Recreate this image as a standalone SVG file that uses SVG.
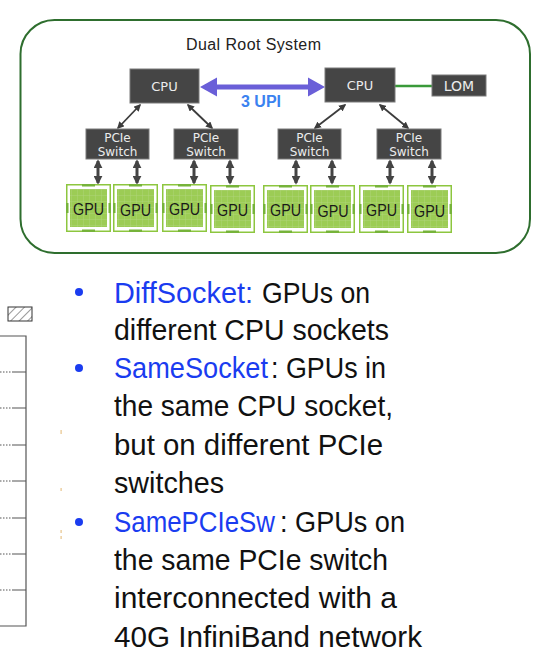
<svg xmlns="http://www.w3.org/2000/svg" xmlns:xlink="http://www.w3.org/1999/xlink" width="558" height="662" viewBox="0 0 558 662">
<style>
.box{fill:#454545;stroke:#7a7a7a;stroke-width:1}
.bt{font-family:"DejaVu Sans",sans-serif;fill:#ececec;text-anchor:middle}
.gt{font-family:"Liberation Sans",Arial,sans-serif;font-size:16px;fill:#1a1a1a;text-anchor:middle}
.bul{font-family:"Liberation Sans",Arial,sans-serif;font-size:29px;fill:#111}
.blue{fill:#1a3cf0}
.diag{stroke:#3c3c3c;stroke-width:1.8;fill:none;marker-start:url(#ahS);marker-end:url(#ahS)}
.vert{stroke:#444;stroke-width:3;fill:none;marker-start:url(#ahV);marker-end:url(#ahV)}
.tbl{stroke:#555;stroke-width:1.2;fill:none}
.dot{stroke:#555;stroke-width:1;stroke-dasharray:1.5 1.5;fill:none}
</style>
<defs>
<marker id="ahS" viewBox="0 0 10 10" refX="8" refY="5" markerWidth="4" markerHeight="4" orient="auto-start-reverse"><path d="M0,0 L10,5 L0,10 z" fill="#3c3c3c"/></marker>
<marker id="ahV" viewBox="0 0 10 10" refX="8" refY="5" markerWidth="3" markerHeight="3" orient="auto-start-reverse"><path d="M0,0 L10,5 L0,10 z" fill="#444"/></marker>
<pattern id="grid" width="6" height="6" patternUnits="userSpaceOnUse"><rect width="6" height="6" fill="#9ccc55"/><path d="M6 0V6M0 6H6" stroke="#b4d985" stroke-width="0.7"/></pattern>
<pattern id="hatch" width="6" height="6" patternUnits="userSpaceOnUse" patternTransform="rotate(45)"><rect width="6" height="6" fill="#fff"/><line x1="0" y1="0" x2="0" y2="6" stroke="#333" stroke-width="1"/></pattern>
<g id="gpuShape">
<rect x="0.75" y="0.75" width="43.5" height="46.5" fill="#fff" stroke="#8dc63f" stroke-width="1.5"/>
<rect x="4" y="5" width="37" height="38" fill="url(#grid)"/>
<rect x="16" y="0" width="13" height="2.5" fill="#76b33a"/>
<rect x="16" y="45.5" width="13" height="2.5" fill="#76b33a"/>
<rect x="0" y="19" width="2.5" height="10" fill="#76b33a"/>
<rect x="42.5" y="19" width="2.5" height="10" fill="#76b33a"/>
</g>
</defs>
<rect width="558" height="662" fill="#fff"/>

<g id="frame">
<rect x="20.5" y="20" width="509.5" height="233" rx="34" ry="34" fill="#fff" stroke="#2e6e2e" stroke-width="2"/>
<text x="186" y="50" font-family="'Liberation Sans',Arial,sans-serif" font-size="16" fill="#222" textLength="135" lengthAdjust="spacing">Dual Root System</text>
</g>

<g id="connectors">
<path d="M200,87 L217,77.5 L217,84.5 L308,84.5 L308,77.5 L325,87 L308,96.5 L308,89.5 L217,89.5 L217,96.5 Z" fill="#6a5fd8"/>
<text x="241" y="107" font-family="'Liberation Sans',Arial,sans-serif" font-size="16" font-weight="bold" fill="#3b82f0">3 UPI</text>
<line x1="395" y1="86" x2="432" y2="86" stroke="#3a9a3a" stroke-width="2.5"/>
<line class="diag" x1="140" y1="105" x2="118" y2="128"/>
<line class="diag" x1="188" y1="105" x2="212" y2="128"/>
<line class="diag" x1="345" y1="105" x2="315" y2="128"/>
<line class="diag" x1="380" y1="105" x2="408" y2="128"/>
<line class="vert" x1="98" y1="161" x2="98" y2="183"/>
<line class="vert" x1="137" y1="161" x2="137" y2="183"/>
<line class="vert" x1="194" y1="161" x2="194" y2="183"/>
<line class="vert" x1="230" y1="161" x2="230" y2="183"/>
<line class="vert" x1="296" y1="161" x2="296" y2="183"/>
<line class="vert" x1="332" y1="161" x2="332" y2="183"/>
<line class="vert" x1="390" y1="161" x2="390" y2="183"/>
<line class="vert" x1="432" y1="161" x2="432" y2="183"/>
</g>

<g id="cpu1"><rect class="box" x="130" y="69" width="69" height="34"/><text class="bt" x="164.5" y="91" font-size="13">CPU</text></g>
<g id="cpu2"><rect class="box" x="325" y="68" width="70" height="34"/><text class="bt" x="360" y="90" font-size="13">CPU</text></g>
<g id="lom"><rect class="box" x="432" y="75" width="54" height="21"/><text class="bt" x="459" y="90.5" font-size="14">LOM</text></g>

<g id="sw1"><rect class="box" x="86" y="129" width="63" height="30"/><text class="bt" x="117.5" y="142" font-size="12">PCIe</text><text class="bt" x="117.5" y="156" font-size="12">Switch</text></g>
<g id="sw2"><rect class="box" x="174" y="129" width="64" height="30"/><text class="bt" x="206" y="142" font-size="12">PCIe</text><text class="bt" x="206" y="156" font-size="12">Switch</text></g>
<g id="sw3"><rect class="box" x="278" y="129" width="63" height="30"/><text class="bt" x="309.5" y="142" font-size="12">PCIe</text><text class="bt" x="309.5" y="156" font-size="12">Switch</text></g>
<g id="sw4"><rect class="box" x="377" y="129" width="64" height="30"/><text class="bt" x="409" y="142" font-size="12">PCIe</text><text class="bt" x="409" y="156" font-size="12">Switch</text></g>

<g id="gpu1"><use xlink:href="#gpuShape" x="66" y="184"/><text class="gt" x="88.5" y="215" textLength="31" lengthAdjust="spacingAndGlyphs">GPU</text></g>
<g id="gpu2"><use xlink:href="#gpuShape" x="113" y="184"/><text class="gt" x="135.5" y="216" textLength="31" lengthAdjust="spacingAndGlyphs">GPU</text></g>
<g id="gpu3"><use xlink:href="#gpuShape" x="162" y="184"/><text class="gt" x="184.5" y="215" textLength="31" lengthAdjust="spacingAndGlyphs">GPU</text></g>
<g id="gpu4"><use xlink:href="#gpuShape" x="210" y="185"/><text class="gt" x="232.5" y="216" textLength="31" lengthAdjust="spacingAndGlyphs">GPU</text></g>
<g id="gpu5"><use xlink:href="#gpuShape" x="263" y="185"/><text class="gt" x="285.5" y="216" textLength="31" lengthAdjust="spacingAndGlyphs">GPU</text></g>
<g id="gpu6"><use xlink:href="#gpuShape" x="310" y="185"/><text class="gt" x="333" y="217" textLength="31" lengthAdjust="spacingAndGlyphs">GPU</text></g>
<g id="gpu7"><use xlink:href="#gpuShape" x="359" y="185"/><text class="gt" x="381.5" y="216" textLength="31" lengthAdjust="spacingAndGlyphs">GPU</text></g>
<g id="gpu8"><use xlink:href="#gpuShape" x="407" y="185"/><text class="gt" x="429.5" y="217" textLength="31" lengthAdjust="spacingAndGlyphs">GPU</text></g>

<g id="partial-figure">
<rect x="8" y="307" width="24" height="14" fill="url(#hatch)" stroke="#333" stroke-width="1"/>
<path class="tbl" d="M0,336 H26 V626 H0"/>
<path class="tbl" d="M12,372 H26 M12,408 H26 M12,445 H26 M12,481 H26 M12,518 H26 M12,554 H26 M12,590 H26"/>
<path class="dot" d="M0,372 H12 M0,408 H12 M0,445 H12 M0,481 H12 M0,518 H12 M0,554 H12 M0,590 H12"/>
<g fill="#e3b56e" opacity="0.8">
<rect x="60.5" y="430" width="1.2" height="4"/>
<rect x="60.5" y="488" width="1.2" height="3"/>
<rect x="60.5" y="530" width="1.2" height="3"/>
<rect x="60.5" y="536" width="1.2" height="3"/>
</g>
</g>

<g id="bullets">
<circle cx="79" cy="292" r="4" fill="#1a3cf0"/>
<circle cx="79" cy="368" r="4" fill="#1a3cf0"/>
<circle cx="79" cy="522" r="4" fill="#1a3cf0"/>
<text class="bul blue" x="114" y="303" textLength="139" lengthAdjust="spacingAndGlyphs">DiffSocket:</text>
<text class="bul" x="262" y="303" textLength="108" lengthAdjust="spacingAndGlyphs">GPUs on</text>
<text class="bul" x="114" y="340" textLength="275" lengthAdjust="spacingAndGlyphs">different CPU sockets</text>
<text class="bul blue" x="114" y="378" textLength="154" lengthAdjust="spacingAndGlyphs">SameSocket</text>
<text class="bul" x="271" y="378" textLength="115" lengthAdjust="spacingAndGlyphs">: GPUs in</text>
<text class="bul" x="114" y="416" textLength="279" lengthAdjust="spacingAndGlyphs">the same CPU socket,</text>
<text class="bul" x="114" y="455" textLength="269" lengthAdjust="spacingAndGlyphs">but on different PCIe</text>
<text class="bul" x="114" y="493" textLength="110" lengthAdjust="spacingAndGlyphs">switches</text>
<text class="bul blue" x="114" y="532" textLength="161" lengthAdjust="spacingAndGlyphs">SamePCIeSw</text>
<text class="bul" x="280" y="532" textLength="125" lengthAdjust="spacingAndGlyphs">: GPUs on</text>
<text class="bul" x="114" y="570" textLength="274" lengthAdjust="spacingAndGlyphs">the same PCIe switch</text>
<text class="bul" x="114" y="608" textLength="283" lengthAdjust="spacingAndGlyphs">interconnected with a</text>
<text class="bul" x="114" y="647" textLength="308" lengthAdjust="spacingAndGlyphs">40G InfiniBand network</text>
</g>
</svg>
